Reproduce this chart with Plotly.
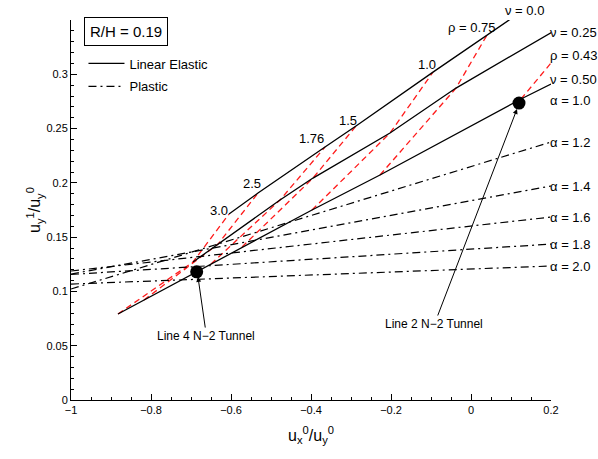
import plotly.graph_objects as go

# Ovalisation ratios shared by the constant-rho (red dashed) lines
rho_values = [3.0, 2.5, 1.76, 1.5, 1.0, 0.75, 0.43]

# Linear elastic solutions for each Poisson ratio, one point per rho value
nu00_x = [-0.605, -0.5325, -0.365, -0.2875, -0.095, 0.040, 0.3925]
nu00_y = [0.1713, 0.1906, 0.2330, 0.2523, 0.3020, 0.3361, 0.4250]
nu25_x = [-0.695, -0.6325, -0.4775, -0.395, -0.2025, -0.0375, 0.3225]
nu25_y = [0.1271, 0.1436, 0.1842, 0.2044, 0.2459, 0.2873, 0.3646]
nu50_x = [-0.8825, -0.8175, -0.65, -0.5725, -0.3975, -0.2275, 0.125, 0.2]
nu50_y = [0.0792, 0.0921, 0.1252, 0.1409, 0.1750, 0.2072, 0.2772, 0.2910]

# Plastic solutions (straight lines between x = -1 and x = 0.2)
alpha_values = [1.2, 1.4, 1.6, 1.8, 2.0]
alpha_x = [-1.0, 0.2]
alpha_y_left = [0.1022, 0.1160, 0.1188, 0.1156, 0.1068]
alpha_y_right = [0.2376, 0.1971, 0.1685, 0.1436, 0.1234]

# Field measurements
tunnel_names = ["Line 4 N\u22122 Tunnel", "Line 2 N\u22122 Tunnel"]
tunnel_x = [-0.6858, 0.120]
tunnel_y = [0.1181, 0.2735]

FONT = "Liberation Sans, Arial, Helvetica, sans-serif"
ELASTIC = dict(color="black", width=1.3)
RHO = dict(color="#ff1a1a", width=1.3, dash="6px,4px")
PLASTIC = dict(color="black", width=1.2, dash="8px,4px,2px,4px")

fig = go.Figure()

# constant-rho lines across the three Poisson ratios
for i, rho in enumerate(rho_values):
    fig.add_trace(go.Scatter(
        x=[nu50_x[i], nu25_x[i], nu00_x[i]],
        y=[nu50_y[i], nu25_y[i], nu00_y[i]],
        mode="lines", line=RHO, showlegend=False, hoverinfo="skip"))

# linear elastic curves
for k, (xs, ys) in enumerate([(nu00_x, nu00_y), (nu25_x, nu25_y), (nu50_x, nu50_y)]):
    fig.add_trace(go.Scatter(
        x=xs, y=ys, mode="lines", line=ELASTIC,
        name="Linear Elastic", legendgroup="elastic", showlegend=(k == 0)))

# plastic lines
for k, a in enumerate(alpha_values):
    fig.add_trace(go.Scatter(
        x=alpha_x, y=[alpha_y_left[k], alpha_y_right[k]],
        mode="lines", line=PLASTIC,
        name="Plastic", legendgroup="plastic", showlegend=(k == 0)))

# tunnel data points
fig.add_trace(go.Scatter(
    x=tunnel_x, y=tunnel_y, mode="markers",
    marker=dict(color="black", size=13), showlegend=False))

annotations = []

def label(text, x, y, xanchor="center", xref="x", yref="y"):
    annotations.append(dict(text=text, x=x, y=y, xref=xref, yref=yref,
                            showarrow=False, xanchor=xanchor, yanchor="middle",
                            font=dict(size=13, family=FONT, color="black")))

# rho labels along the nu = 0 curve
label("\u03c1 = 0.75", 0.0025, 0.3435)
label("1.0", -0.11, 0.3094)
label("1.5", -0.3075, 0.2578)
label("1.76", -0.40, 0.2413)
label("2.5", -0.5475, 0.1998)
label("3.0", -0.63, 0.1750)
# sits above the top of the axes, so it is placed in paper units
label("\u03bd = 0.0", 0.9458, 1.0237, xref="paper", yref="paper")

# labels at the right-hand ends
right = 0.1925
label("\u03bd = 0.25", right, 0.3389, "left")
label("\u03c1 = 0.43", right, 0.3177, "left")
label("\u03bd = 0.50", right, 0.2950, "left")
label("\u03b1 = 1.0", right, 0.2762, "left")
for k, a in enumerate(alpha_values):
    label(f"\u03b1 = {a:.1f}", right, alpha_y_right[k], "left")

# tunnel call-outs
annotations.append(dict(
    text=tunnel_names[0], x=-0.6825, y=0.1133, xref="x", yref="y",
    ax=-0.6613, ay=0.0589, axref="x", ayref="y",
    showarrow=True, arrowhead=2, arrowsize=1, arrowwidth=1, arrowcolor="black",
    font=dict(size=12, family=FONT, color="black")))
annotations.append(dict(
    text=tunnel_names[1], x=0.115, y=0.268, xref="x", yref="y",
    ax=-0.0913, ay=0.0700, axref="x", ayref="y",
    showarrow=True, arrowhead=2, arrowsize=1, arrowwidth=1, arrowcolor="black",
    font=dict(size=12, family=FONT, color="black")))

# R/H box
annotations.append(dict(
    text="R/H = 0.19", x=0.1146, y=0.9697, xref="paper", yref="paper",
    showarrow=False, xanchor="center", yanchor="middle",
    bordercolor="black", borderwidth=1, borderpad=5, bgcolor="white",
    font=dict(size=15, family=FONT, color="black")))

fig.update_layout(
    width=598, height=459,
    margin=dict(l=71, r=47, t=20, b=59, pad=0),
    paper_bgcolor="white", plot_bgcolor="white",
    font=dict(family=FONT, size=11, color="black"),
    annotations=annotations,
    legend=dict(x=0.026, y=0.925, xanchor="left", yanchor="top",
                bgcolor="rgba(0,0,0,0)", font=dict(size=13, family=FONT),
                traceorder="grouped", tracegroupgap=3, itemwidth=36),
)

fig.update_xaxes(
    range=[-1, 0.2], showgrid=False, zeroline=False,
    showline=True, linecolor="black", linewidth=1,
    ticks="inside", ticklen=6, tickcolor="black",
    tickvals=[-1, -0.8, -0.6, -0.4, -0.2, 0, 0.2],
    ticktext=["\u22121", "\u22120.8", "\u22120.6", "\u22120.4", "\u22120.2", "0", "0.2"],
    minor=dict(ticks="inside", ticklen=3, tickcolor="black", dtick=0.05, tick0=0),
    tickfont=dict(size=11),
    title=dict(text="u<sub>x</sub><sup>0</sup>/u<sub>y</sub><sup>0</sup>",
               font=dict(size=16), standoff=14),
)
fig.update_yaxes(
    range=[0, 0.35], showgrid=False, zeroline=False,
    showline=True, linecolor="black", linewidth=1,
    ticks="inside", ticklen=6, tickcolor="black",
    tickvals=[0, 0.05, 0.1, 0.15, 0.2, 0.25, 0.3],
    ticktext=["0", "0.05", "0.1", "0.15", "0.2", "0.25", "0.3"],
    minor=dict(ticks="inside", ticklen=3, tickcolor="black", dtick=0.01, tick0=0),
    tickfont=dict(size=11),
    title=dict(text="u<sub>y</sub><sup>1</sup>/u<sub>y</sub><sup>0</sup>",
               font=dict(size=16), standoff=1),
)

fig.write_html("out.html")
